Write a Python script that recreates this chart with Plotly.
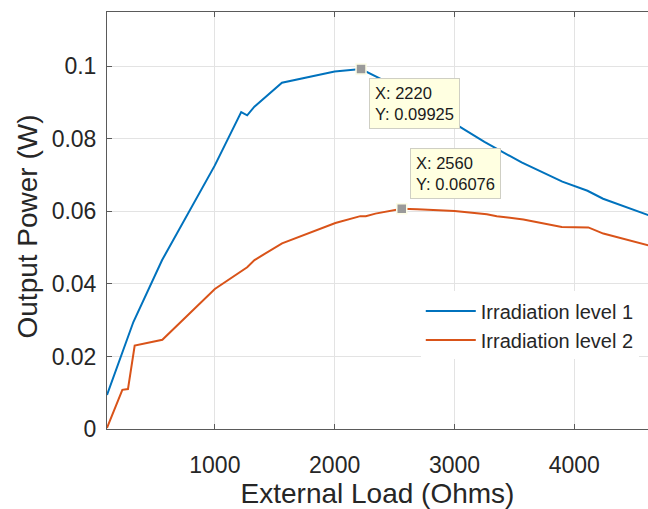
import plotly.graph_objects as go

# Measured output power versus external load resistance
load_1 = [100, 320, 560, 1000, 1220, 1270, 1330, 1560, 2000, 2220, 2380, 2500,
          2750, 3050, 3250, 3560, 3900, 4110, 4240, 4650]
power_1 = [0.0094, 0.0295, 0.0466, 0.0727, 0.0874, 0.0865, 0.0889, 0.0955,
           0.0986, 0.09925, 0.0966, 0.0945, 0.0893, 0.0831, 0.0792, 0.0735,
           0.0682, 0.0657, 0.0635, 0.0586]

load_2 = [100, 228, 275, 331, 562, 1000, 1270, 1331, 1561, 2006, 2214, 2260,
          2340, 2560, 2690, 3000, 3270, 3353, 3575, 3895, 4117, 4242, 4650]
power_2 = [0.0003, 0.0108, 0.0110, 0.0230, 0.0246, 0.0386, 0.0446, 0.0466,
           0.0512, 0.0568, 0.0587, 0.0587, 0.0594, 0.06076, 0.0606, 0.0601,
           0.0592, 0.0587, 0.0578, 0.0557, 0.0556, 0.0539, 0.0504]

series_names = ["Irradiation level 1", "Irradiation level 2"]
series_colors = ["#0072BD", "#D95319"]

# Data-tip points (indices into each series)
tip_index_1 = load_1.index(2220)
tip_index_2 = load_2.index(2560)

x_ticks = [1000, 2000, 3000, 4000]
y_ticks = [0, 0.02, 0.04, 0.06, 0.08, 0.1]
y_tick_text = ["0", "0.02", "0.04", "0.06", "0.08", "0.1"]

FONT = "Liberation Sans, Arial, Helvetica, sans-serif"
TEXT = "#262626"

fig = go.Figure()
for xs, ys, name, color in [(load_1, power_1, series_names[0], series_colors[0]),
                            (load_2, power_2, series_names[1], series_colors[1])]:
    fig.add_trace(go.Scatter(x=xs, y=ys, mode="lines", name=name,
                             line=dict(color=color, width=2)))

tips = [(load_1[tip_index_1], power_1[tip_index_1], "top", -9),
        (load_2[tip_index_2], power_2[tip_index_2], "bottom", 10)]

fig.add_trace(go.Scatter(
    x=[t[0] for t in tips], y=[t[1] for t in tips], mode="markers",
    showlegend=False, hoverinfo="skip",
    marker=dict(symbol="square", size=10, color="#9a9a9a",
                line=dict(color="#fdfde6", width=1.5))))

for tx, ty, anchor, shift in tips:
    fig.add_annotation(
        x=tx, y=ty, xref="x", yref="y", showarrow=False,
        text=f"X: {tx}<br>Y: {ty}", align="left",
        xanchor="left", yanchor=anchor, xshift=8, yshift=shift,
        bgcolor="#ffffe1", bordercolor="#cfcfc4", borderwidth=1, borderpad=5,
        font=dict(family=FONT, size=16.5, color="#1a1a1a"))

# Y-axis title, placed slightly below the plot-area centre
fig.add_annotation(
    text="Output Power (W)", textangle=-90, showarrow=False,
    xref="paper", yref="paper", x=0, y=0.5, xanchor="center", yanchor="middle",
    xshift=-80, yshift=-6,
    font=dict(family=FONT, size=28, color=TEXT))

axis_common = dict(
    showgrid=True, gridcolor="#e3e3e3", gridwidth=1,
    showline=True, linecolor="#5a5a5a", linewidth=1,
    ticks="inside", ticklen=5, tickcolor="#5a5a5a",
    tickfont=dict(family=FONT, size=23, color=TEXT),
    zeroline=False,
)

fig.update_xaxes(
    range=[100, 4615], tickvals=x_ticks, mirror="ticks", ticklabelstandoff=15,
    title=dict(text="External Load (Ohms)", standoff=4,
               font=dict(family=FONT, size=28, color=TEXT)),
    **axis_common)
fig.update_yaxes(
    range=[0, 0.115], tickvals=y_ticks, ticktext=y_tick_text,
    ticklabelstandoff=5,
    **axis_common)

fig.update_layout(
    width=648, height=509,
    margin=dict(l=107, r=0, t=12, b=80),
    plot_bgcolor="white", paper_bgcolor="white",
    showlegend=True,
    legend=dict(x=0.58, y=0.33, xanchor="left", yanchor="top",
                bgcolor="white", borderwidth=0, itemwidth=50,
                font=dict(family=FONT, size=20, color=TEXT),
                tracegroupgap=0),
)

fig.write_html("out.html")
